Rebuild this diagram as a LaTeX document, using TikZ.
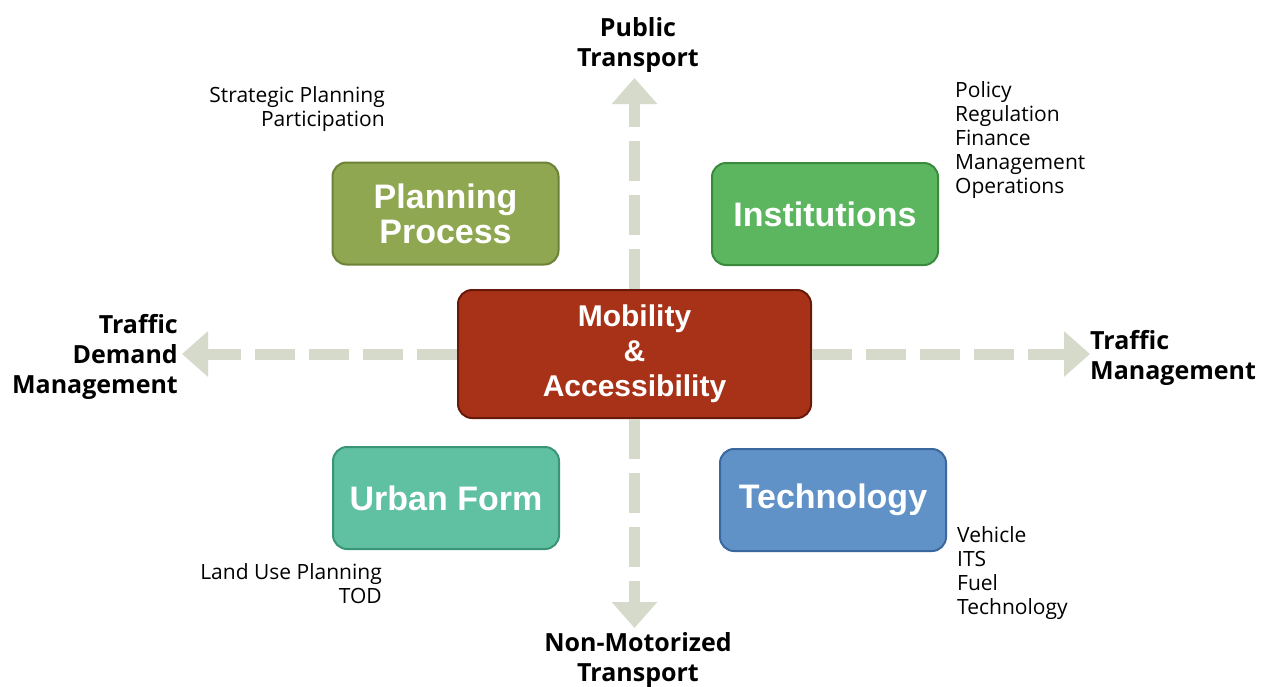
\documentclass[tikz,border=0pt]{standalone}
\usepackage{fontspec}
\setmainfont{Open Sans}
\newfontfamily\boxfont{Liberation Sans}
\usetikzlibrary{arrows.meta}

\definecolor{mobfill}{RGB}{168,50,24}
\definecolor{mobline}{RGB}{105,25,10}
\definecolor{planfill}{RGB}{143,167,80}
\definecolor{planline}{RGB}{108,130,55}
\definecolor{instfill}{RGB}{92,182,95}
\definecolor{instline}{RGB}{58,138,62}
\definecolor{urbfill}{RGB}{95,192,162}
\definecolor{urbline}{RGB}{58,148,118}
\definecolor{techfill}{RGB}{96,146,200}
\definecolor{techline}{RGB}{58,103,158}
\definecolor{flowgray}{RGB}{214,218,203}

\tikzset{
  topicbox/.style={draw, line width=2pt, rounded corners=14pt, align=center,
    text=white, font=\boxfont\bfseries\fontsize{34}{35}\selectfont,
    minimum width=226pt, minimum height=102pt, inner sep=0pt},
  axislabel/.style={font=\bfseries\fontsize{25}{30}\selectfont, inner sep=0pt},
  notelabel/.style={font=\fontsize{21}{24}\selectfont, inner sep=0pt},
  flowarrow/.style={flowgray, line width=11pt, dash pattern=on 40pt off 14pt,
    -{Triangle[width=44pt,length=26pt]}}
}

\begin{document}
\begin{tikzpicture}[x=1pt,y=-1pt]
  \useasboundingbox[fill=white] (0,0) rectangle (1270,686);

  % centre box
  \node[topicbox, fill=mobfill, draw=mobline, minimum width=353pt, minimum height=128pt,
    font=\boxfont\bfseries\fontsize{30}{35}\selectfont] (mob) at (634.5,354)
    {Mobility\\\&\\Accessibility};

  % arrow ends
  \coordinate (ptip) at (634.5,78);
  \coordinate (ntip) at (634.5,628);
  \coordinate (dtip) at (182,354);
  \coordinate (mtip) at (1090,354);

  % dashed arrows
  \draw[flowarrow] (mob.north) -- (ptip);
  \draw[flowarrow] (mob.south) -- (ntip);
  \draw[flowarrow] (mob.west) -- (dtip);
  \draw[flowarrow] (mob.east) -- (mtip);

  % corner boxes
  \node[topicbox, fill=planfill, draw=planline] (plan) at (445.5,213.5) {Planning\\Process};
  \node[topicbox, fill=instfill, draw=instline] (inst) at (825,214) {Institutions};
  \node[topicbox, fill=urbfill, draw=urbline] (urb) at (446,498) {Urban Form};
  \node[topicbox, fill=techfill, draw=techline] (tech) at (833,500) {Technology};

  % axis labels
  \node[axislabel, align=center, anchor=south] (pt) at (638,73) {Public\\Transport};
  \node[axislabel, align=center, anchor=north] (nmt) at (638,632) {Non-Motorized\\Transport};
  \node[axislabel, align=right, anchor=east] (tdm) at (178,357) {Traffic\\Demand\\Management};
  \node[axislabel, align=left, anchor=west] (tm) at (1090,358) {Traffic\\Management};

  % notes
  \node[notelabel, align=right, anchor=east] (plannote) at (385,109) {Strategic Planning\\Participation};
  \node[notelabel, align=left, anchor=west] (instnote) at (955,140) {Policy\\Regulation\\Finance\\Management\\Operations};
  \node[notelabel, align=right, anchor=east] (urbnote) at (382,584) {Land Use Planning\\TOD};
  \node[notelabel, align=left, anchor=west] (technote) at (957,573) {Vehicle\\ITS\\Fuel\\Technology};
\end{tikzpicture}
\end{document}
